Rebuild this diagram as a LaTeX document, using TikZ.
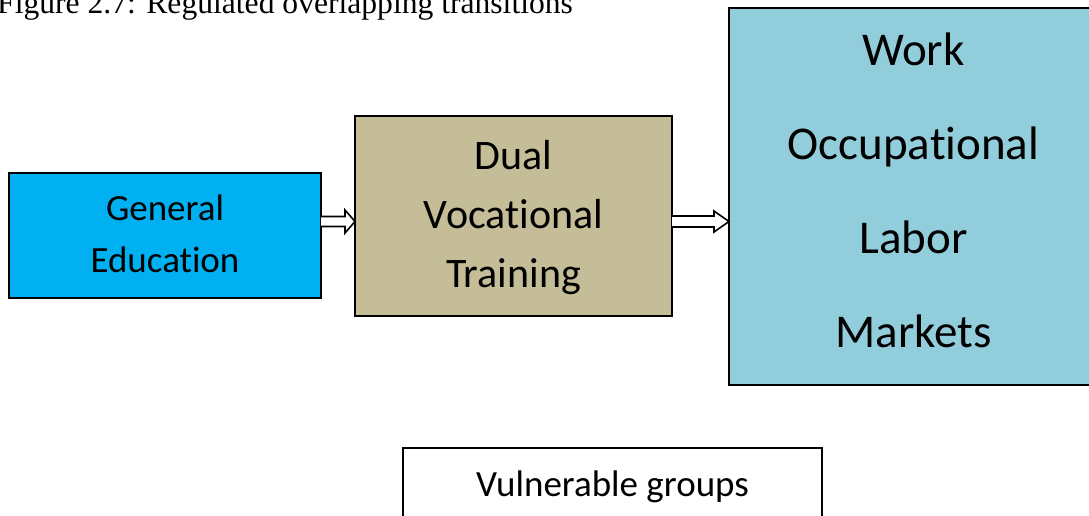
\documentclass[tikz,border=0pt]{standalone}
\usepackage{fontspec}
\setmainfont{Liberation Serif}
\newfontfamily\calfont[Ligatures={NoCommon}]{Carlito}
\usetikzlibrary{calc}
\definecolor{geblue}{HTML}{00B0F0}
\definecolor{dvtan}{HTML}{C4BD97}
\definecolor{wkblue}{HTML}{92CDDC}
\tikzset{
  boxstyle/.style={draw=black, line width=2pt, inner sep=0pt, outer sep=0pt},
  boxtext/.style={font=\calfont, align=center, inner sep=0pt},
  arr/.style={draw=black, line width=1.6pt, fill=white, line join=miter}
}
\begin{document}
\begin{tikzpicture}[x=1pt,y=-1pt]
\useasboundingbox (0,0) rectangle (1089,515);
% title (cropped at top, as in the reference)
\node[anchor=base west, inner sep=0pt, font=\fontsize{31.6}{36}\selectfont] (title) at (-3,13) {Figure 2.7: Regulated overlapping transitions};
% boxes
\node[boxstyle, fill=geblue, minimum width=312pt, minimum height=125pt] (ge) at (165,235.5) {};
\node[boxstyle, fill=dvtan, minimum width=317pt, minimum height=200pt] (dvt) at (513.5,216) {};
\node[boxstyle, fill=wkblue, minimum width=369pt, minimum height=377pt] (wk) at (913.5,196.5) {};
\node[boxstyle, fill=white, minimum width=419pt, minimum height=120pt] (vg) at (612.5,508) {};
% texts
\node[boxtext, font=\calfont\fontsize{37}{52}\selectfont] (get) at (165,234) {General\\Education};
\node[boxtext, font=\calfont\fontsize{42}{59}\selectfont] (dvtt) at (513.5,218) {Dual\\Vocational\\Training};
\node[boxtext, font=\calfont\fontsize{47}{94}\selectfont] (wkt) at (913.5,190) {Work\\Occupational\\Labor\\Markets};
\node[boxtext, font=\calfont\fontsize{37}{44}\selectfont] (vgt) at (612.5,487) {Vulnerable groups};
% arrows
\coordinate (m1) at (0,221.5);
\draw[arr] ($(ge.east |- m1)+(0,-5)$) -- ($(dvt.west |- m1)+(-10,-5)$) -- ($(dvt.west |- m1)+(-10,-11.5)$) -- (dvt.west |- m1) -- ($(dvt.west |- m1)+(-10,11.5)$) -- ($(dvt.west |- m1)+(-10,5)$) -- ($(ge.east |- m1)+(0,5)$);
\draw[arr] ($(dvt.east |- m1)+(0,-5.5)$) -- ($(wk.west |- m1)+(-15,-5.5)$) -- ($(wk.west |- m1)+(-15,-10.5)$) -- (wk.west |- m1) -- ($(wk.west |- m1)+(-15,10.5)$) -- ($(wk.west |- m1)+(-15,5.5)$) -- ($(dvt.east |- m1)+(0,5.5)$);
\end{tikzpicture}
\end{document}
